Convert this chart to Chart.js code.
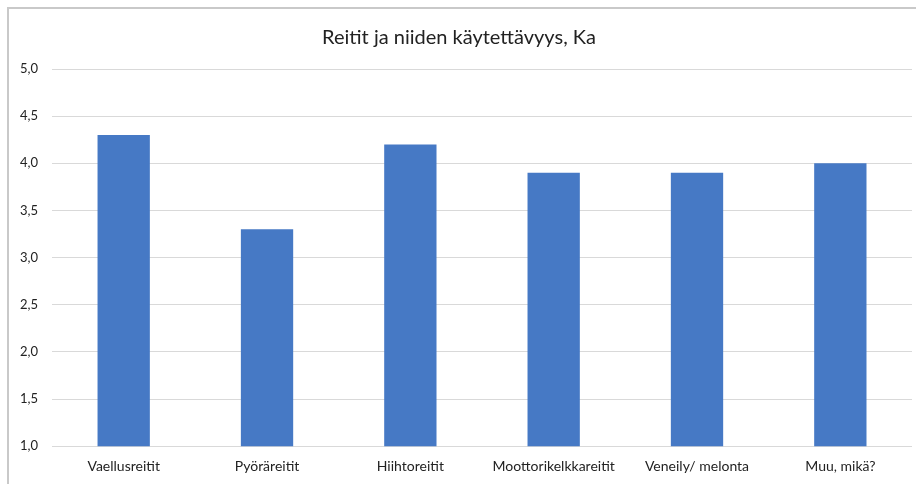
<!DOCTYPE html>
<html>
<head>
<meta charset="utf-8">
<script src="https://cdn.jsdelivr.net/npm/chart.js@4"></script>
<style>
	html, body { margin: 0; padding: 0; background: #fff; }
	.frame {
		position: absolute; left: 7px; top: 7px; width: 909px; height: 477px;
		border-left: 2px solid #c9c9c9; border-top: 2px solid #c9c9c9;
		box-sizing: border-box;
	}
	.canvas-container { position: absolute; left: 0; top: 0; width: 916px; height: 484px; }
</style>
</head>
<body>
<div class="frame"></div>
<div class="canvas-container">
	<canvas id="chart"></canvas>
</div>
<script>
// Reitit ja niiden käytettävyys (keskiarvot)
const categories = ["Vaellusreitit", "Pyöräreitit", "Hiihtoreitit", "Moottorikelkkareitit", "Veneily/ melonta", "Muu, mikä?"];
const averages = [4.3, 3.3, 4.2, 3.9, 3.9, 4.0];
const yMin = 1.0, yMax = 5.0, yStep = 0.5;

const fontFamily = "Lato, 'Open Sans', sans-serif";

const ctx = document.getElementById("chart").getContext("2d");
new Chart(ctx, {
	type: "bar",
	data: {
		labels: categories,
		datasets: [
			{
				label: "Ka",
				data: averages,
				backgroundColor: "#4679c5",
				borderWidth: 0,
				categoryPercentage: 1,
				barPercentage: 0.365,
			},
		],
	},
	options: {
		responsive: true,
		maintainAspectRatio: false,
		animation: false,
		layout: { padding: { left: 6, right: 4, top: 26, bottom: -3 } },
		plugins: {
			legend: { display: false },
			tooltip: { enabled: false },
			title: {
				display: true,
				text: "Reitit ja niiden käytettävyys, Ka",
				color: "#222",
				font: { family: fontFamily, size: 20, weight: "normal" },
				padding: { top: 0, bottom: 19 },
			},
		},
		scales: {
			x: {
				grid: { display: false, drawTicks: false },
				border: { display: false },
				ticks: {
					color: "#222",
					padding: 12,
					maxRotation: 0,
					autoSkip: false,
					font: { family: fontFamily, size: 14 },
				},
			},
			y: {
				min: yMin,
				max: yMax,
				grid: { color: "#d9d9d9", lineWidth: 1, drawTicks: false },
				border: { display: false },
				ticks: {
					stepSize: yStep,
					padding: 14,
					color: "#222",
					font: { family: fontFamily, size: 13 },
					callback: (v) => v.toFixed(1).replace(".", ","),
				},
			},
		},
	},
});
</script>
</body>
</html>
